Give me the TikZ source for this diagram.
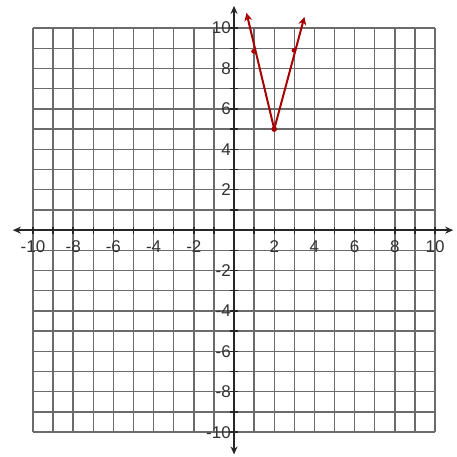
\documentclass[tikz,border=0pt]{standalone}
\usepackage{fontspec}
\setmainfont{Liberation Sans}
\usetikzlibrary{arrows.meta}
\begin{document}
\begin{tikzpicture}[x=20.1pt,y=20.2pt,
  gridline/.style={draw=black!58,line width=1.4pt},
  axisline/.style={draw=black!85,line width=1.8pt,-{Stealth[length=8pt,width=7pt]}},
  ticklbl/.style={font=\fontsize{17}{17}\selectfont,text=black!80,inner sep=0pt},
  curve/.style={draw=red!65!black,line width=2pt},
  curvearrow/.style={curve,-{Stealth[length=8pt,width=8pt,open]}},
  dotmark/.style={fill=red!65!black,draw=none}]
\useasboundingbox (-11.64,-11.19) rectangle (11.09,11.39);
\fill[white] (-11.64,-11.19) rectangle (11.09,11.39);
% grid
\foreach \i in {-10,...,10} {
  \draw[gridline] (\i,-10) -- (\i,10);
  \draw[gridline] (-10,\i) -- (10,\i);
}
% axes
\coordinate (xl) at (-11.0,0);
\coordinate (xr) at (10.9,0);
\coordinate (yt) at (0,11.1);
\coordinate (yb) at (0,-11.1);
\draw[axisline] (0,0) -- (xr);
\draw[axisline] (0,0) -- (xl);
\draw[axisline] (0,0) -- (yt);
\draw[axisline] (0,0) -- (yb);
% ticks
\foreach \i in {-10,...,-1,1,2,...,10} {
  \draw[black!85,line width=1.4pt] (\i,-0.18) -- (\i,0.18);
  \draw[black!85,line width=1.4pt] (-0.18,\i) -- (0.18,\i);
}
% labels
\foreach \i in {-10,-8,-6,-4,-2,2,4,6,8,10} {
  \node[ticklbl] (xlab\i) at (\i,-0.8) {\i};
}
\foreach \i in {-10,-8,-6,-4,-2,2,4,6,8,10} {
  \node[ticklbl,anchor=east] (ylab\i) at (-0.15,\i) {\i};
}
% graph
\coordinate (v) at (2,5.0);
\coordinate (la) at (0.62,10.75);
\coordinate (ra) at (3.5,10.55);
\coordinate (ld) at (0.97,8.85);
\coordinate (rd) at (2.98,8.9);
\draw[curvearrow] (v) -- (la);
\draw[curvearrow] (v) -- (ra);
\fill[dotmark] (v) circle (2.8pt);
\fill[dotmark] (ld) circle (2.3pt);
\fill[dotmark] (rd) circle (2.3pt);
\end{tikzpicture}
\end{document}
